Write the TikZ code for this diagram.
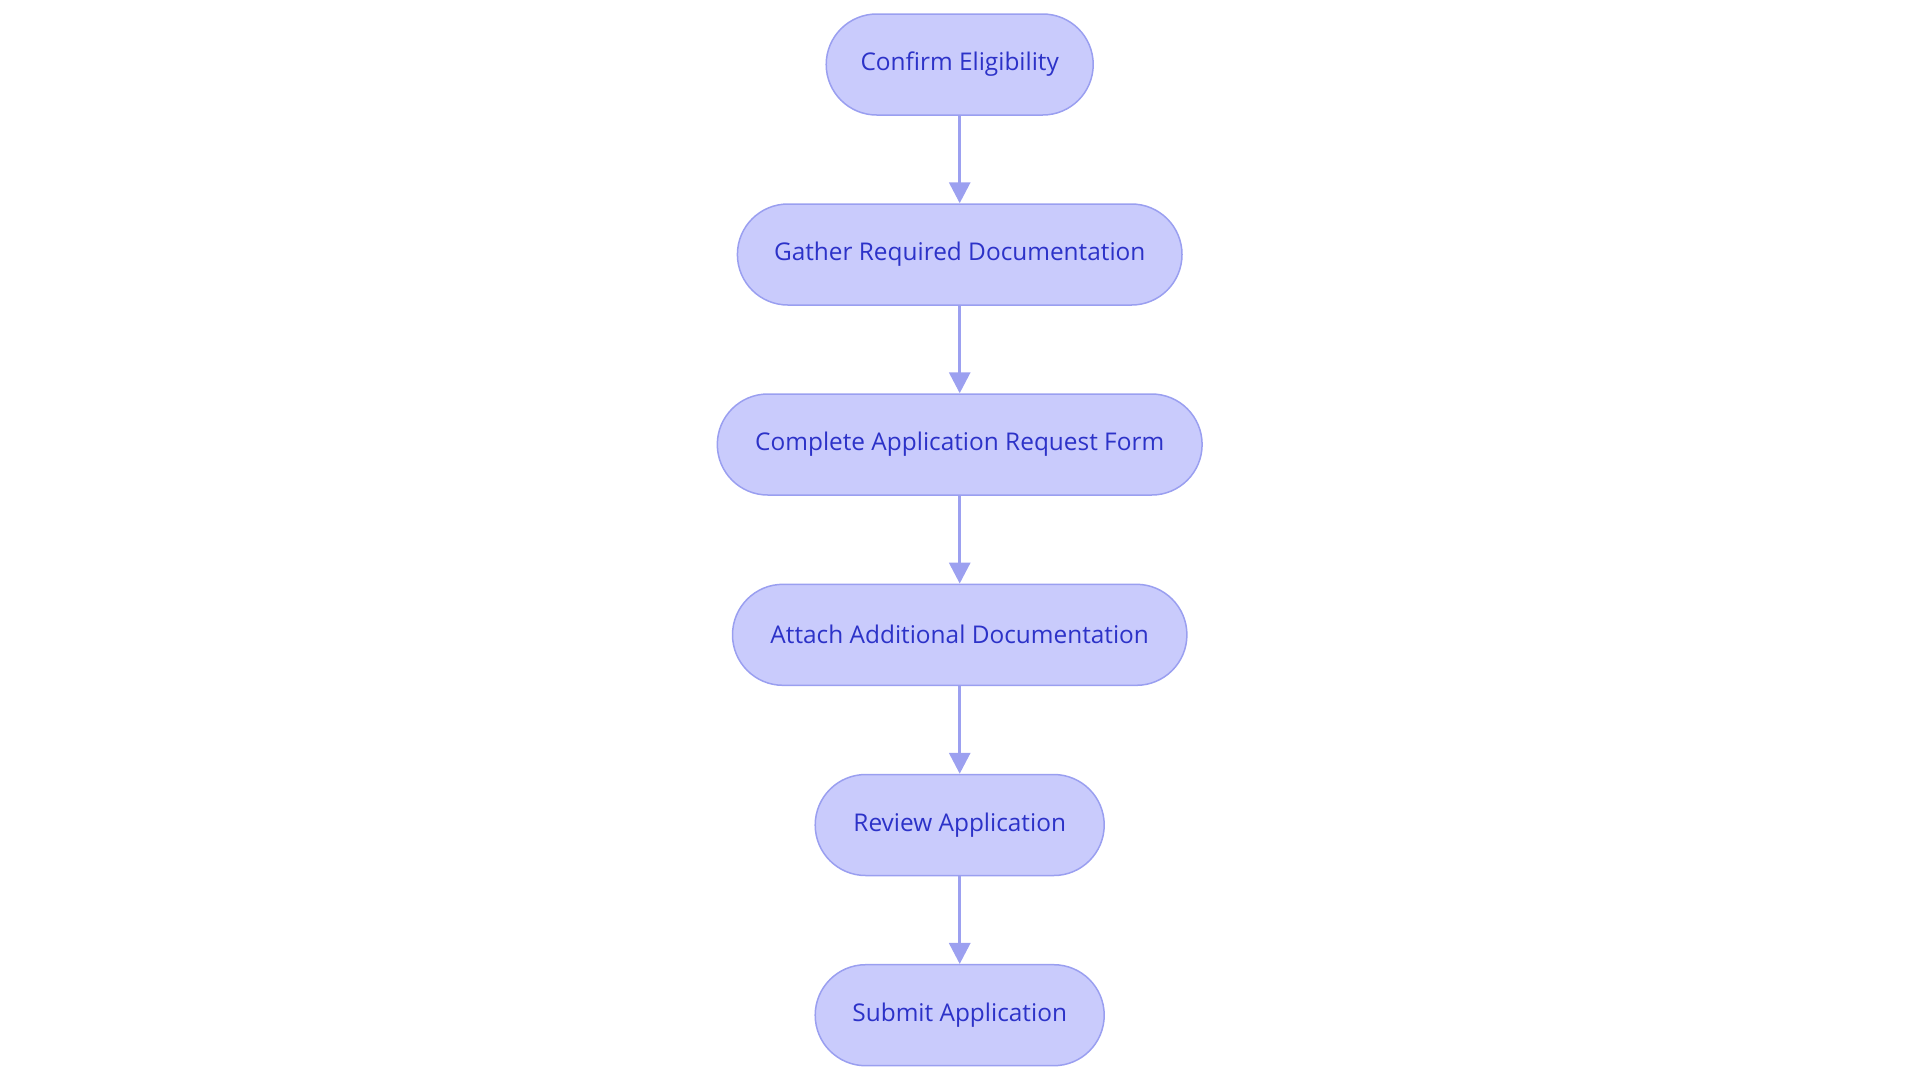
\documentclass[tikz,border=0pt]{standalone}
\usepackage{fontspec}
\setmainfont{Open Sans}
\usetikzlibrary{arrows.meta,positioning}
\definecolor{boxfill}{HTML}{C9CBFC}
\definecolor{boxline}{HTML}{9A9FF0}
\definecolor{boxtext}{HTML}{2C32C8}
\definecolor{arrowcol}{HTML}{9CA0F0}
\tikzset{
  stepbox/.style={draw=boxline, fill=boxfill, line width=0.75pt, rounded corners=25.25pt,
    minimum height=50.5pt, inner sep=0pt, text=boxtext, font=\fontsize{12.2pt}{14pt}\selectfont},
  flow/.style={draw=arrowcol, line width=1.6pt, -{Triangle[length=10.5pt,width=10.5pt]}}
}
\begin{document}
\begin{tikzpicture}[x=0.5pt,y=-0.5pt]
\useasboundingbox (0,0) rectangle (1920,1083);
\node[stepbox, minimum width=133.5pt] (a) at (959.7,64.5) {Confirm Eligibility};
\node[stepbox, minimum width=222.3pt] (b) at (959.7,254.5) {Gather Required Documentation};
\node[stepbox, minimum width=242.4pt] (c) at (959.7,444.5) {Complete Application Request Form};
\node[stepbox, minimum width=227.2pt] (d) at (959.7,634.8) {Attach Additional Documentation};
\node[stepbox, minimum width=144.5pt] (e) at (959.7,825) {Review Application};
\node[stepbox, minimum width=144.5pt] (f) at (959.7,1015.2) {Submit Application};
\draw[flow] (a) -- (b);
\draw[flow] (b) -- (c);
\draw[flow] (c) -- (d);
\draw[flow] (d) -- (e);
\draw[flow] (e) -- (f);
\end{tikzpicture}
\end{document}
